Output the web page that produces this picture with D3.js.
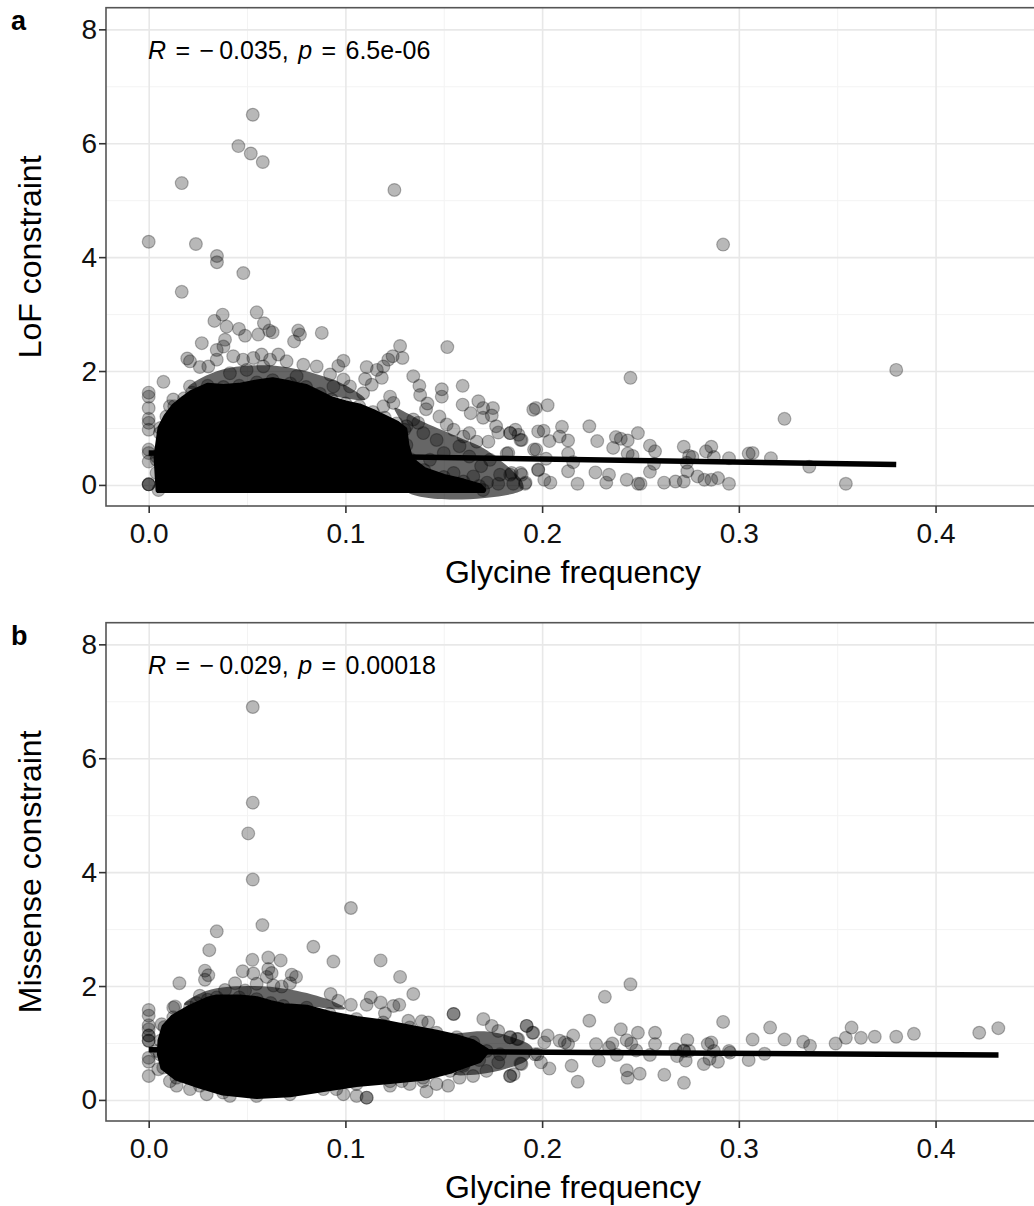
<!DOCTYPE html>
<html>
<head>
<meta charset="utf-8">
<script src="https://cdnjs.cloudflare.com/ajax/libs/d3/7.8.5/d3.min.js"></script>
<style>
  body { margin: 0; background: #fff; }
  svg { display: block; font-family: "Liberation Sans", Arial, sans-serif; }
</style>
</head>
<body>
<svg id="chart" width="1034" height="1206"></svg>
<script>
// ---- data ----
var xTicks = [0, 0.1, 0.2, 0.3, 0.4];
var xMinor = [0.05, 0.15, 0.25, 0.35, 0.45];
var yTicks = [0, 2, 4, 6, 8];
var yMinor = [1, 3, 5, 7];

// solid black core of the LoF cloud (outline) and the half-dark fringe beside it
var lofCore = [[0.005,-0.09],[0.004,0.5],[0.006,1.0],[0.009,1.2],[0.013,1.38],[0.018,1.52],[0.022,1.62],
  [0.03,1.74],[0.038,1.72],[0.046,1.74],[0.055,1.8],[0.063,1.84],[0.072,1.78],[0.08,1.72],[0.087,1.6],
  [0.093,1.5],[0.1,1.43],[0.107,1.38],[0.114,1.28],[0.12,1.18],[0.126,1.08],[0.13,0.97],[0.131,0.7],
  [0.133,0.45],[0.14,0.26],[0.15,0.14],[0.16,0.06],[0.168,-0.02],[0.17,-0.09]];
var lofFringe = [[[0.125,1.35],[0.132,1.25],[0.14,1.1],[0.15,0.95],[0.16,0.8],[0.17,0.65],[0.178,0.45],
  [0.185,0.25],[0.19,0.05],[0.19,-0.09],[0.13,-0.09],[0.13,0.97]],
  [[0.02,1.7],[0.035,2.0],[0.06,2.1],[0.085,1.95],[0.1,1.75],[0.11,1.5],[0.06,1.75]]];

var lofPoints = [[0.0529,6.50],[0.0456,5.95],[0.0519,5.82],[0.058,5.67],[0.0168,5.30],[0.1249,5.18],[0.0,4.27],
  [0.024,4.23],[0.0347,4.02],[0.0347,3.91],[0.0481,3.72],[0.0168,3.39],[0.292,4.22],
  [0.027,2.49],[0.0334,2.88],[0.0376,2.99],[0.0396,2.78],[0.0459,2.74],[0.049,2.62],[0.0549,3.03],[0.0557,2.64],
  [0.0586,2.84],[0.0613,2.71],[0.063,2.68],[0.0739,2.52],[0.076,2.71],[0.0769,2.64],[0.088,2.67],
  [0.0196,2.22],[0.021,2.17],[0.026,2.07],[0.0075,1.81],
  [0,1.62],[0,1.55],[0,1.35],[0,1.16],[0,1.09],[0,0.97],[0,0.62],[0,0.56],[0,0.41],[0,0.01],[0,0.01],[0,0.01],
  [0.1278,2.44],[0.129,2.23],[0.124,2.26],[0.1218,2.2],[0.1193,2.08],[0.116,2.02],[0.1108,2.07],[0.1134,1.76],
  [0.1185,1.88],[0.110,1.86],[0.099,2.18],[0.0964,2.09],[0.0922,1.94],
  [0.1518,2.42],[0.1345,1.91],[0.1376,1.74],[0.138,1.58],[0.1417,1.43],[0.141,1.33],[0.149,1.68],[0.149,1.55],
  [0.1478,1.2],[0.1596,1.74],[0.1596,1.41],[0.1637,1.26],[0.1676,1.47],[0.170,1.35],[0.175,1.35],[0.1744,1.22],
  [0.17,1.18],[0.1766,1.03],[0.1777,0.92],[0.1837,0.91],[0.188,0.88],[0.1896,0.79],[0.1955,1.32],[0.198,0.94],
  [0.1828,0.56],[0.197,0.62],[0.198,0.27],
  [0.1786,0.18],[0.1845,0.21],[0.1896,0.18],[0.1777,0.02],[0.1853,0.02],[0.1913,0.02],
  [0.155,0.97],[0.16,0.85],[0.163,0.91],[0.1667,0.76],[0.1727,0.76],[0.158,0.68],[0.163,0.5],[0.169,0.33],
  [0.155,0.21],[0.165,0.15],[0.172,0.04],[0.1566,0.02],[0.1464,0.79],[0.1515,1.06],[0.1396,0.91],[0.137,1.09],
  [0.131,1.03],[0.143,0.44],[0.15,0.56],[0.1735,0.44],
  [0.2449,1.88],[0.3232,1.16],[0.38,2.02],[0.3544,0.02],[0.3358,0.32],[0.1968,1.35],[0.2028,1.40],[0.2008,0.95],
  [0.2101,1.02],[0.2037,0.77],[0.2089,0.85],[0.2132,0.78],[0.224,1.03],[0.228,0.77],[0.2132,0.55],[0.2158,0.40],
  [0.2132,0.24],[0.198,0.26],[0.2011,0.09],[0.2042,0.04],[0.218,0.02],[0.2271,0.22],[0.2326,0.04],[0.234,0.18],
  [0.2375,0.84],[0.24,0.81],[0.2435,0.78],[0.2361,0.65],[0.2487,0.91],[0.2548,0.69],[0.2574,0.59],[0.2569,0.37],
  [0.2548,0.23],[0.243,0.09],[0.25,0.02],[0.2435,0.55],[0.246,0.51],[0.262,0.04],[0.2678,0.06],[0.272,0.06],
  [0.272,0.67],[0.2747,0.51],[0.2764,0.49],[0.2735,0.39],[0.2738,0.24],[0.2833,0.59],[0.286,0.67],[0.2873,0.49],
  [0.2825,0.09],[0.286,0.09],[0.2894,0.12],[0.279,0.15],[0.295,0.02],[0.295,0.47],[0.305,0.55],[0.307,0.56],
  [0.3163,0.47],[0.2488,0.02],
  [0.1838,0.91],[0.1864,0.97],[0.189,0.79],[0.182,0.55],[0.189,0.21],[0.1838,0.18],[0.1916,0.04],[0.1959,0.62],[0.202,0.46],
  [0.0346,2.37],[0.0388,2.55],[0.038,2.43],[0.043,2.26],[0.048,2.2],[0.0532,2.23],[0.0574,2.29],[0.0617,2.2],
  [0.0659,2.29],[0.0701,2.17],[0.0786,2.11],[0.0854,2.08],[0.0303,2.08],[0.0346,2.2],[0.0752,1.91],[0.0583,2.08],
  [0.0498,2.02],[0.0413,1.96],[0.021,1.73],[0.0125,1.5],[0.0108,1.38],[0.0057,0.91],[0.004,0.44],[0.004,0.21],
  [0.1023,1.73],[0.099,1.85],[0.109,1.61],[0.1227,1.55],[0.1244,1.44],[0.1193,1.38],[0.0939,1.73],[0.1345,1.15]];

var lofFit = [[0, 0.56], [0.38, 0.36]];

// solid black core of the missense cloud (outline) and its half-dark fringe
var misCore = [[0.006,1.04],[0.008,1.28],[0.0125,1.45],[0.021,1.62],[0.03,1.76],[0.0346,1.80],[0.046,1.80],
  [0.0549,1.77],[0.062,1.70],[0.0684,1.65],[0.0803,1.62],[0.092,1.51],[0.1056,1.42],[0.1192,1.36],[0.1327,1.27],
  [0.1463,1.18],[0.1566,1.10],[0.165,1.01],[0.1718,0.86],[0.168,0.70],[0.160,0.60],[0.1532,0.51],[0.1395,0.39],
  [0.1227,0.33],[0.1056,0.28],[0.0888,0.19],[0.0718,0.10],[0.0549,0.07],[0.0378,0.13],[0.026,0.25],[0.0141,0.39],
  [0.0074,0.57],[0.0057,0.8]];
var misFringe = [[[0.15,1.12],[0.16,1.18],[0.172,1.2],[0.185,1.1],[0.195,0.92],[0.193,0.72],[0.182,0.55],
  [0.168,0.45],[0.155,0.45],[0.165,0.65],[0.172,0.86]],
  [[0.018,1.68],[0.03,1.92],[0.05,2.0],[0.07,1.95],[0.09,1.78],[0.1,1.6],[0.06,1.72]]];

var misPoints = [[0.0529,6.90],[0.0529,5.22],[0.0506,4.68],[0.0529,3.87],[0.1028,3.37],[0.0578,3.07],[0.0346,2.96],
  [0.0308,2.63],[0.0837,2.69],[0.0939,2.43],[0.1179,2.45],[0.1278,2.16],[0.1345,1.86],
  [0.0527,2.46],[0.0608,2.5],[0.0671,2.45],[0.0286,2.27],[0.0303,2.19],[0.0286,2.11],[0.0156,2.05],
  [0.0478,2.26],[0.0532,2.22],[0.0608,2.3],[0.0625,2.23],[0.06,2.16],[0.0727,2.2],[0.0749,2.16],[0.0718,2.05],
  [0.0439,2.05],[0.049,1.92],[0.0388,1.93],[0.0549,2.04],[0.0634,2.01],[0.0676,1.99],[0.026,1.83],[0.0244,1.70],[0.0134,1.64],
  [0,1.58],[0,1.48],[0,1.31],[0,1.24],[0,1.13],[0,1.13],[0,1.04],[0,1.04],[0,0.74],[0,0.67],[0,0.42],
  [0.0925,1.86],[0.0964,1.74],[0.1028,1.67],[0.1108,1.67],[0.1129,1.80],[0.1179,1.71],[0.1201,1.52],[0.1244,1.65],[0.1274,1.67],
  [0.155,1.51],[0.155,1.51],[0.132,1.39],[0.1388,1.38],[0.1421,1.36],[0.1701,1.42],[0.1744,1.30],[0.1777,1.21],
  [0.1922,1.30],[0.1955,1.18],[0.1878,1.07],[0.1837,1.10],
  [0.1777,0.66],[0.1895,0.63],[0.1837,0.42],[0.1786,0.80],[0.1964,0.80],
  [0.1412,0.15],[0.1463,0.28],[0.1522,0.25],[0.158,0.39],[0.1649,0.42],[0.1717,0.51],
  [0.1108,0.04],[0.1108,0.04],[0.1057,0.07],[0.099,0.1],[0.0954,0.19],[0.021,0.19],[0.0142,0.25],[0.0108,0.33],
  [0.0295,0.1],[0.0413,0.07],
  [0.0049,0.54],[0.004,0.86],[0.0066,1.33],[0.0125,1.62],
  [0.1286,0.33],[0.1227,0.25],[0.1327,0.28],[0.1395,0.33],[0.1463,0.57],[0.1532,0.63],[0.16,0.63],[0.1649,0.74],
  [0.2449,2.03],[0.2319,1.81],[0.224,1.39],[0.292,1.37],[0.3159,1.27],[0.307,1.06],[0.3232,1.06],[0.3327,1.02],
  [0.3362,0.95],[0.3492,0.99],[0.3544,1.09],[0.3573,1.27],[0.3621,1.09],[0.3691,1.11],[0.38,1.11],[0.389,1.16],
  [0.4222,1.18],[0.4319,1.26],
  [0.305,0.70],[0.3131,0.81],[0.295,0.86],[0.2955,0.83],[0.2842,0.98],[0.286,1.01],[0.2873,0.86],[0.2894,0.67],
  [0.2822,0.63],[0.2851,0.72],[0.2721,0.30],[0.273,0.69],[0.2686,0.77],[0.2738,1.05],[0.2721,0.86],[0.2747,0.86],
  [0.2621,0.44],[0.2574,1.18],[0.2574,0.98],[0.2548,0.79],[0.2487,1.18],[0.2496,0.46],[0.243,0.52],[0.2435,0.39],
  [0.24,1.24],[0.243,1.05],[0.2453,0.99],[0.2478,0.87],[0.2357,0.99],[0.234,0.92],[0.238,0.79],[0.2288,0.69],
  [0.2274,0.98],[0.2181,0.32],[0.215,0.60],[0.2158,1.13],[0.2115,1.01],[0.2132,0.98],[0.2089,1.04],[0.2037,0.55],
  [0.1994,0.66],[0.1977,0.80],[0.2028,1.13],[0.2011,1.01],[0.1951,1.18],[0.1921,1.30],[0.189,0.64],[0.1855,0.45],
  [0.1838,0.42],[0.1872,1.07],[0.1838,1.10],[0.2678,0.89],[0.2721,0.87]];

var misFit = [[0, 0.88], [0.432, 0.79]];

var panels = [
  {tag: 'a', top: 7.7, ylab: 'LoF constraint', core: lofCore, fringe: lofFringe, points: lofPoints, fit: lofFit,
   r: '\u22120.035', p: '6.5e-06'},
  {tag: 'b', top: 622.7, ylab: 'Missense constraint', core: misCore, fringe: misFringe, points: misPoints, fit: misFit,
   r: '\u22120.029', p: '0.00018'}
];

// ---- layout ----
var left = 106, right = 1041, panelH = 498.3;
var svg = d3.select('#chart');

panels.forEach(function(pn, i){
    var top = pn.top, bottom = top + panelH;
    var x = d3.scaleLinear().domain([-0.0217, 0.4536]).range([left, right]);
    var y = d3.scaleLinear().domain([-0.37, 8.38]).range([bottom, top]);

    var g = svg.append('g').attr('class', 'panel-' + pn.tag);

    svg.append('defs').append('clipPath').attr('id', 'clip' + i)
      .append('rect').attr('x', left).attr('y', top)
      .attr('width', right - left).attr('height', panelH);

    // grid (minor then major)
    function gridY(vals, w, col){
        g.append('g').attr('transform', 'translate(' + left + ',0)')
          .call(d3.axisLeft(y).tickValues(vals).tickSize(-(right - left)).tickFormat(''))
          .call(function(s){ s.select('.domain').remove();
              s.selectAll('line').attr('stroke', col).attr('stroke-width', w); });
    }
    function gridX(vals, w, col){
        g.append('g').attr('transform', 'translate(0,' + bottom + ')')
          .call(d3.axisBottom(x).tickValues(vals).tickSize(-panelH).tickFormat(''))
          .call(function(s){ s.select('.domain').remove();
              s.selectAll('line').attr('stroke', col).attr('stroke-width', w); });
    }
    gridY(yMinor, 1, '#f3f3f3');
    gridX(xMinor, 1, '#f3f3f3');
    gridY(yTicks, 1.6, '#e8e8e8');
    gridX(xTicks, 1.6, '#e8e8e8');

    var plot = g.append('g').attr('clip-path', 'url(#clip' + i + ')');

    var outline = d3.line()
        .x(function(d){ return x(d[0]); })
        .y(function(d){ return y(d[1]); })
        .curve(d3.curveLinearClosed);
    var softOutline = d3.line()
        .x(function(d){ return x(d[0]); })
        .y(function(d){ return y(d[1]); })
        .curve(d3.curveCatmullRomClosed);

    // half-dark fringe, then the dense core
    plot.selectAll('.fringe').data(pn.fringe).enter()
      .append('path').attr('class', 'fringe')
        .attr('d', softOutline)
        .attr('fill', '#000').attr('fill-opacity', 0.6);
    plot.append('path').datum(pn.core)
        .attr('d', outline)
        .attr('fill', '#000')
        .attr('stroke', '#000').attr('stroke-width', 6).attr('stroke-linejoin', 'round');

    // individual points (core outline vertices too, so the edge looks dotted)
    var allPts = pn.core.concat(pn.points);
    plot.selectAll('.dot').data(allPts).enter()
      .append('circle')
        .attr('class', 'dot')
        .attr('cx', function(d){ return x(d[0]); })
        .attr('cy', function(d){ return y(d[1]); })
        .attr('r', 6.4)
        .attr('fill', '#000').attr('fill-opacity', 0.28)
        .attr('stroke', '#000').attr('stroke-opacity', 0.28).attr('stroke-width', 1.2);

    // fitted line
    plot.append('path').datum(pn.fit)
        .attr('d', d3.line().x(function(d){ return x(d[0]); }).y(function(d){ return y(d[1]); }))
        .attr('stroke', '#000').attr('stroke-width', 5.5).attr('fill', 'none');

    // border
    g.append('rect').attr('x', left).attr('y', top)
      .attr('width', right - left).attr('height', panelH)
      .attr('fill', 'none').attr('stroke', '#555').attr('stroke-width', 1.6);

    // axes
    var yAxis = g.append('g').attr('transform', 'translate(' + left + ',0)')
        .call(d3.axisLeft(y).tickValues(yTicks).tickSize(7).tickFormat(d3.format('d')));
    yAxis.select('.domain').remove();
    yAxis.selectAll('line').attr('stroke', '#333').attr('stroke-width', 1.6);
    yAxis.selectAll('text').attr('x', -9).attr('font-size', 28).attr('fill', '#111')
        .attr('font-family', '"Liberation Sans", Arial, sans-serif');

    var xAxis = g.append('g').attr('transform', 'translate(0,' + bottom + ')')
        .call(d3.axisBottom(x).tickValues(xTicks).tickSize(7).tickFormat(d3.format('.1f')));
    xAxis.select('.domain').remove();
    xAxis.selectAll('line').attr('stroke', '#333').attr('stroke-width', 1.6);
    xAxis.selectAll('text').attr('y', 37).attr('dy', null).attr('font-size', 28).attr('fill', '#111')
        .attr('font-family', '"Liberation Sans", Arial, sans-serif');

    // titles
    g.append('text')
        .attr('x', 573).attr('y', bottom + 77)
        .attr('text-anchor', 'middle').attr('font-size', 32).attr('fill', '#000')
        .text('Glycine frequency');
    g.append('text')
        .attr('transform', 'translate(41,' + (top + panelH / 2) + ') rotate(-90)')
        .attr('text-anchor', 'middle').attr('font-size', 32).attr('fill', '#000')
        .text(pn.ylab);

    // panel tag
    g.append('text').attr('x', 11).attr('y', top + 22)
        .attr('font-size', 27).attr('font-weight', 'bold').text(pn.tag);

    // correlation annotation
    var ann = g.append('text').attr('x', 148).attr('y', top + 51)
        .attr('font-size', 25).attr('fill', '#000').attr('word-spacing', 2.5)
        .attr('xml:space', 'preserve');
    ann.append('tspan').attr('font-style', 'italic').text('R');
    ann.append('tspan').text(' = ' + pn.r.replace('\u2212', '\u2212\u2009') + ', ');
    ann.append('tspan').attr('font-style', 'italic').text('p');
    ann.append('tspan').text(' = ' + pn.p);
});
</script>
</body>
</html>
